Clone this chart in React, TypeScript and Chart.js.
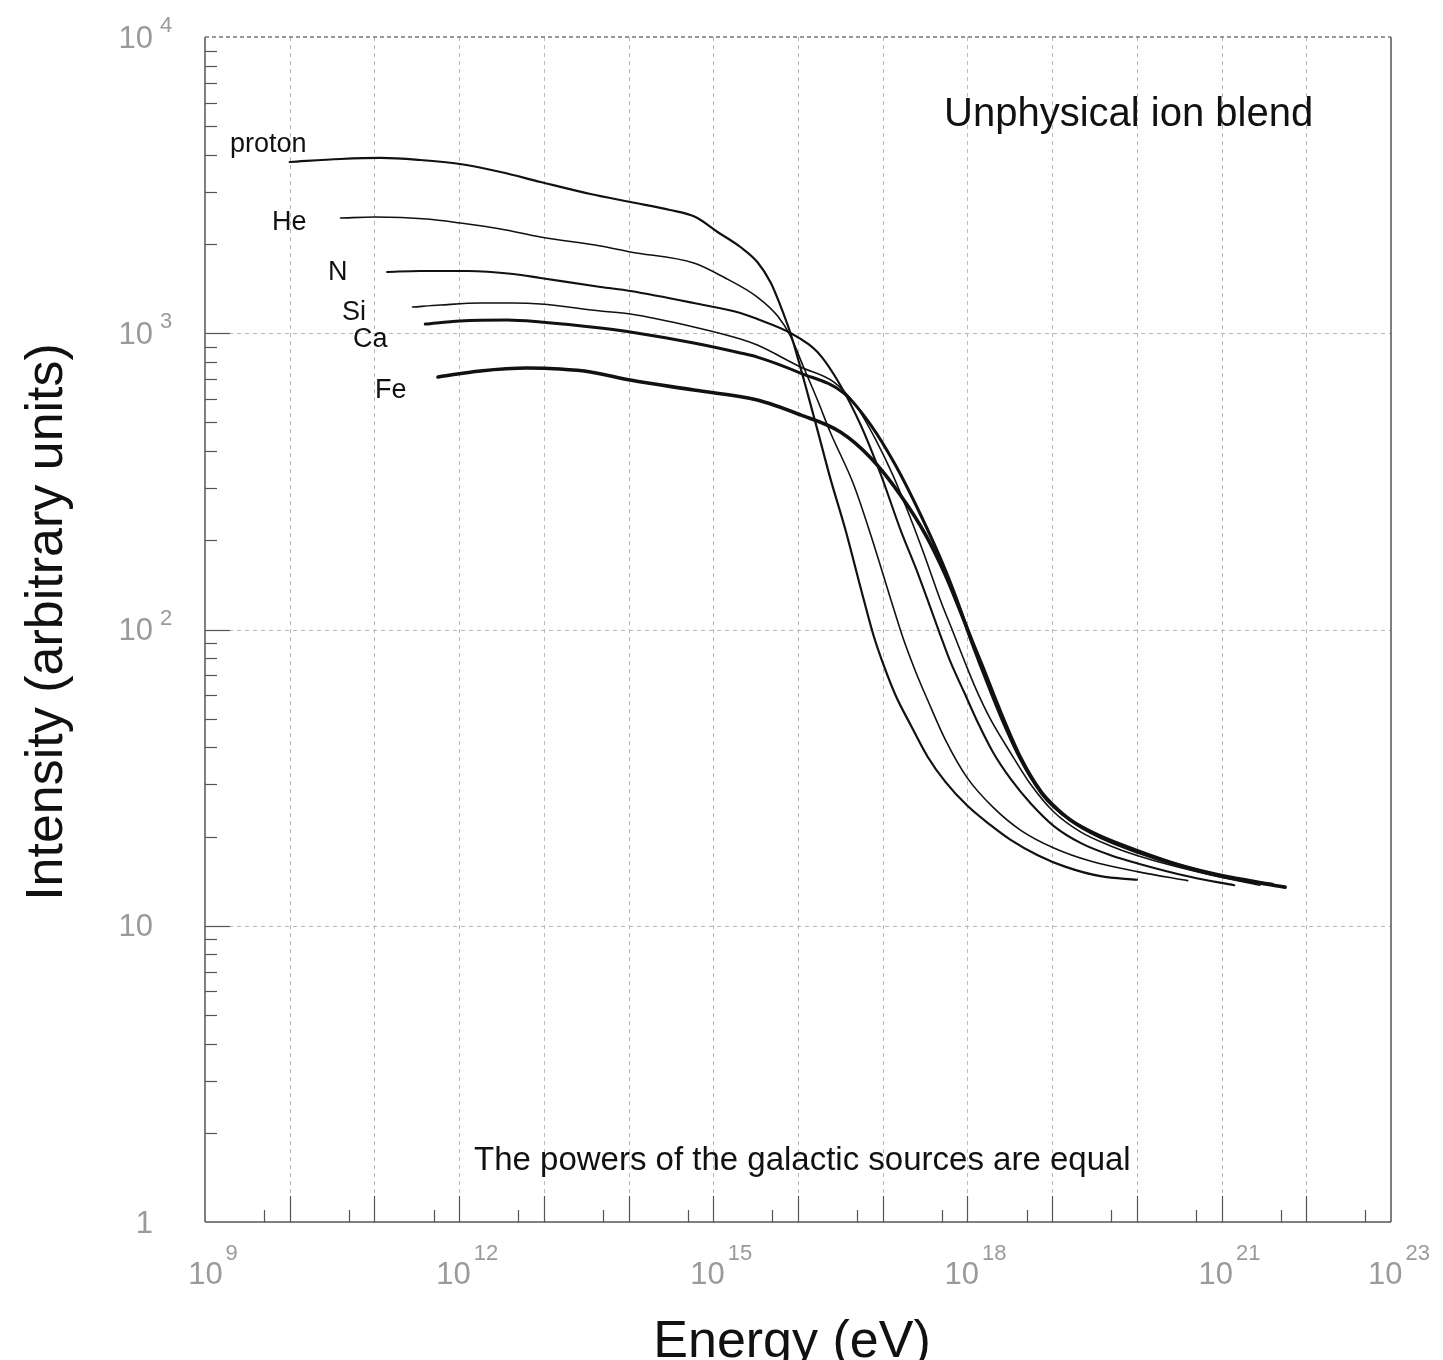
import React, { useEffect, useRef } from "react";
import { Chart, registerables } from "chart.js";

Chart.register(...registerables);

// ---- Data (log10 of energy in eV, intensity in arbitrary units) ----
const protonLogE = [10.0, 10.6, 11.07, 11.54, 12.01, 12.49, 12.96, 13.55, 14.02, 14.49, 14.79, 15.05, 15.32, 15.52, 15.68, 15.79, 15.91, 16.07, 16.23, 16.38, 16.56, 16.74, 16.89, 17.01, 17.15, 17.33, 17.53, 17.74, 18.0, 18.27, 18.51, 18.83, 19.16, 19.57, 20.0];
const protonI = [3785, 3875, 3908, 3845, 3727, 3502, 3241, 2951, 2773, 2607, 2468, 2197, 1955, 1740, 1479, 1245, 1002, 695, 471, 325, 217, 138.1, 95.8, 75.9, 60.1, 47.6, 37.2, 30.6, 25.4, 21.9, 19.5, 17.3, 15.8, 14.7, 14.3];

const heliumLogE = [10.6, 11.01, 11.62, 12.01, 12.49, 12.96, 13.67, 14.02, 14.77, 15.12, 15.52, 15.76, 15.91, 16.07, 16.23, 16.38, 16.66, 16.86, 17.09, 17.24, 17.39, 17.53, 17.74, 18.0, 18.31, 18.63, 19.02, 19.46, 20.02, 20.6];
const heliumI = [2449, 2468, 2430, 2356, 2249, 2113, 1970, 1881, 1726, 1548, 1325, 1143, 979, 763, 595, 464, 307, 208, 127.8, 93.6, 71.9, 57.8, 42.4, 31.5, 25.0, 21.0, 18.3, 16.5, 15.2, 14.2];

const nitrogenLogE = [11.15, 11.54, 12.1, 12.64, 12.96, 13.67, 14.02, 14.77, 15.32, 15.52, 15.91, 16.23, 16.5, 16.74, 16.98, 17.21, 17.39, 17.53, 17.68, 17.8, 17.96, 18.12, 18.3, 18.51, 18.75, 19.02, 19.34, 19.69, 20.02, 20.64, 21.15];
const nitrogenI = [1610, 1623, 1623, 1585, 1537, 1433, 1389, 1265, 1171, 1117, 1002, 864, 668, 490, 332, 217, 161.3, 125.8, 95.8, 77.7, 61.5, 48.7, 38.6, 31.3, 25.8, 21.7, 19.0, 17.3, 16.2, 14.6, 13.7];

const siliconLogE = [11.45, 11.78, 12.25, 12.64, 12.96, 13.67, 14.02, 14.77, 15.32, 15.52, 16.03, 16.42, 16.68, 16.92, 17.12, 17.29, 17.47, 17.68, 17.83, 17.96, 18.1, 18.27, 18.51, 18.75, 19.02, 19.34, 19.69, 20.02, 20.76, 21.45];
const siliconI = [1226, 1245, 1265, 1265, 1255, 1189, 1161, 1050, 956, 912, 769, 685, 572, 436, 332, 253, 185.5, 125.8, 98.1, 78.9, 63.0, 49.9, 38.3, 29.9, 24.2, 20.7, 18.6, 17.2, 15.1, 13.7];

const calciumLogE = [11.6, 12.01, 12.57, 12.96, 13.67, 14.02, 14.77, 15.32, 15.52, 16.03, 16.54, 16.86, 17.15, 17.45, 17.74, 17.92, 18.04, 18.16, 18.39, 18.63, 18.87, 19.02, 19.22, 19.57, 20.02, 20.52, 21.0, 21.6];
const calciumI = [1074, 1100, 1108, 1091, 1041, 1010, 927, 858, 831, 734, 628, 490, 359, 243, 158.8, 116.4, 92.1, 74.7, 51.1, 36.3, 28.1, 25.2, 22.7, 20.1, 17.9, 16.0, 14.8, 13.8];

const ironLogE = [11.75, 12.25, 12.8, 13.19, 13.55, 14.02, 14.77, 15.52, 16.03, 16.5, 16.86, 17.21, 17.51, 17.74, 17.92, 18.06, 18.18, 18.39, 18.63, 18.87, 19.02, 19.22, 19.57, 20.02, 20.52, 21.0, 21.75];
const ironI = [712, 746, 763, 757, 740, 695, 643, 595, 530, 464, 379, 284, 208, 152.8, 114.6, 90.7, 74.7, 52.7, 36.8, 28.3, 25.4, 22.7, 19.9, 17.7, 15.9, 14.7, 13.5];

const seriesNames = ["proton", "He", "N", "Si", "Ca", "Fe"];
const xLabelExponents = [9, 12, 15, 18, 21, 23];
const yLabelExponents = [0, 1, 2, 3, 4];
const xMinExp = 9;
const xMaxExp = 23;
const yMinExp = 0;
const yMaxExp = 4;
const titleText = "Unphysical ion blend";
const noteText = "The powers of the galactic sources are equal";
const xTitle = "Energy (eV)";
const yTitle = "Intensity (arbitrary units)";

// ---- Styling ----
const FONT = '"Liberation Sans", Arial, Helvetica, sans-serif';
const lineWidths = [2.2, 1.6, 2.1, 1.6, 3.0, 3.6];
const labelPos: [number, number][] = [
  [230, 152],
  [272, 230],
  [328, 280],
  [342, 320],
  [353, 347],
  [375, 398],
];

const toPoints = (logE: number[], vals: number[]) =>
  logE.map((e, i) => ({ x: Math.pow(10, e), y: vals[i] }));

const seriesData = [
  toPoints(protonLogE, protonI),
  toPoints(heliumLogE, heliumI),
  toPoints(nitrogenLogE, nitrogenI),
  toPoints(siliconLogE, siliconI),
  toPoints(calciumLogE, calciumI),
  toPoints(ironLogE, ironI),
];

function seg(ctx: CanvasRenderingContext2D, x1: number, y1: number, x2: number, y2: number) {
  ctx.beginPath();
  ctx.moveTo(x1, y1);
  ctx.lineTo(x2, y2);
  ctx.stroke();
}

const overlayPlugin = {
  id: "overlay",
  beforeDatasetsDraw(chart: any) {
    const { ctx, chartArea: a, scales } = chart;
    const xs = scales.x;
    const ys = scales.y;
    ctx.save();
    ctx.strokeStyle = "#b8b8b8";
    ctx.lineWidth = 1;
    ctx.setLineDash([4, 4]);
    for (let n = xMinExp + 1; n < xMaxExp; n++) {
      const px = Math.round(xs.getPixelForValue(Math.pow(10, n))) + 0.5;
      seg(ctx, px, a.top, px, a.bottom);
    }
    for (let n = yMinExp + 1; n < yMaxExp; n++) {
      const py = Math.round(ys.getPixelForValue(Math.pow(10, n))) + 0.5;
      seg(ctx, a.left, py, a.right, py);
    }
    ctx.restore();
  },
  afterDraw(chart: any) {
    const { ctx, chartArea: a, scales } = chart;
    const xs = scales.x;
    const ys = scales.y;
    ctx.save();
    // frame
    ctx.strokeStyle = "#555";
    ctx.lineWidth = 1.5;
    ctx.setLineDash([]);
    seg(ctx, a.left, a.top, a.left, a.bottom);
    seg(ctx, a.left, a.bottom, a.right, a.bottom);
    seg(ctx, a.right, a.top, a.right, a.bottom);
    ctx.setLineDash([4, 3]);
    ctx.strokeStyle = "#777";
    seg(ctx, a.left, a.top, a.right, a.top);
    ctx.setLineDash([]);
    ctx.strokeStyle = "#555";
    ctx.lineWidth = 1.2;
    // x ticks
    for (let n = xMinExp; n < xMaxExp; n++) {
      if (n > xMinExp) {
        const px = Math.round(xs.getPixelForValue(Math.pow(10, n))) + 0.5;
        seg(ctx, px, a.bottom, px, a.bottom - 26);
      }
      const pm = Math.round(xs.getPixelForValue(5 * Math.pow(10, n))) + 0.5;
      seg(ctx, pm, a.bottom, pm, a.bottom - 12);
    }
    // y ticks
    for (let n = yMinExp; n < yMaxExp; n++) {
      if (n > yMinExp) {
        const py = Math.round(ys.getPixelForValue(Math.pow(10, n))) + 0.5;
        seg(ctx, a.left, py, a.left + 25, py);
      }
      for (let k = 2; k <= 9; k++) {
        const py = Math.round(ys.getPixelForValue(k * Math.pow(10, n))) + 0.5;
        seg(ctx, a.left, py, a.left + 12, py);
      }
    }
    // tick labels
    ctx.fillStyle = "#9a9a9a";
    ctx.textBaseline = "middle";
    const mFont = `31px ${FONT}`;
    const eFont = `22px ${FONT}`;
    for (const n of xLabelExponents) {
      const px = xs.getPixelForValue(Math.pow(10, n));
      ctx.font = mFont;
      const wm = ctx.measureText("10").width;
      ctx.font = eFont;
      const we = ctx.measureText(String(n)).width;
      const gap = 3;
      const left = px + 8 - (wm + gap + we) / 2;
      ctx.textAlign = "left";
      ctx.font = mFont;
      ctx.fillText("10", left, a.bottom + 53);
      ctx.font = eFont;
      ctx.fillText(String(n), left + wm + gap, a.bottom + 32);
    }
    for (const n of yLabelExponents) {
      const py = ys.getPixelForValue(Math.pow(10, n));
      ctx.textAlign = "right";
      ctx.font = mFont;
      const mant = n === 0 ? "1" : "10";
      ctx.fillText(mant, 153, py + 2);
      if (n >= 2) {
        ctx.textAlign = "left";
        ctx.font = eFont;
        ctx.fillText(String(n), 160, py - 11);
      }
    }
    // series labels
    ctx.fillStyle = "#111";
    ctx.textAlign = "left";
    ctx.textBaseline = "alphabetic";
    ctx.font = `27px ${FONT}`;
    seriesNames.forEach((name, i) => {
      ctx.fillText(name, labelPos[i][0], labelPos[i][1]);
    });
    // annotations
    ctx.font = `40px ${FONT}`;
    ctx.fillText(titleText, 944, 126);
    ctx.font = `33px ${FONT}`;
    ctx.fillText(noteText, 474, 1170);
    // axis titles
    ctx.font = `52px ${FONT}`;
    ctx.textAlign = "center";
    ctx.fillText(xTitle, (a.left + a.right) / 2 - 6, 1357);
    ctx.save();
    ctx.translate(62, 622);
    ctx.rotate(-Math.PI / 2);
    ctx.fillText(yTitle, 0, 0);
    ctx.restore();
    ctx.restore();
  },
};

export default function App() {
  const canvasRef = useRef<HTMLCanvasElement | null>(null);

  useEffect(() => {
    const canvas = canvasRef.current;
    if (!canvas) return;
    const chart = new Chart(canvas, {
      type: "line",
      data: {
        datasets: seriesData.map((pts, i) => ({
          label: seriesNames[i],
          data: pts,
          borderColor: "#111",
          backgroundColor: "#111",
          borderWidth: lineWidths[i],
          pointRadius: 0,
          fill: false,
          cubicInterpolationMode: "monotone" as const,
          borderCapStyle: "round" as const,
          borderJoinStyle: "round" as const,
        })),
      },
      options: {
        animation: false,
        responsive: false,
        devicePixelRatio: 1,
        layout: { padding: { left: 0, top: 37, right: 52, bottom: 0 } },
        plugins: {
          legend: { display: false },
          tooltip: { enabled: false },
        },
        scales: {
          x: {
            type: "logarithmic",
            min: Math.pow(10, xMinExp),
            max: Math.pow(10, xMaxExp),
            ticks: { display: false },
            grid: { display: false },
            border: { display: false },
            afterFit: (s: any) => {
              s.height = 138;
            },
          },
          y: {
            type: "logarithmic",
            min: Math.pow(10, yMinExp),
            max: Math.pow(10, yMaxExp),
            ticks: { display: false },
            grid: { display: false },
            border: { display: false },
            afterFit: (s: any) => {
              s.width = 205;
            },
          },
        },
      },
      plugins: [overlayPlugin],
    });
    return () => chart.destroy();
  }, []);

  return (
    <div style={{ position: "absolute", left: 0, top: 0, width: 1443, height: 1360, background: "#fff" }}>
      <canvas ref={canvasRef} width={1443} height={1360} style={{ width: 1443, height: 1360, display: "block" }} />
    </div>
  );
}
